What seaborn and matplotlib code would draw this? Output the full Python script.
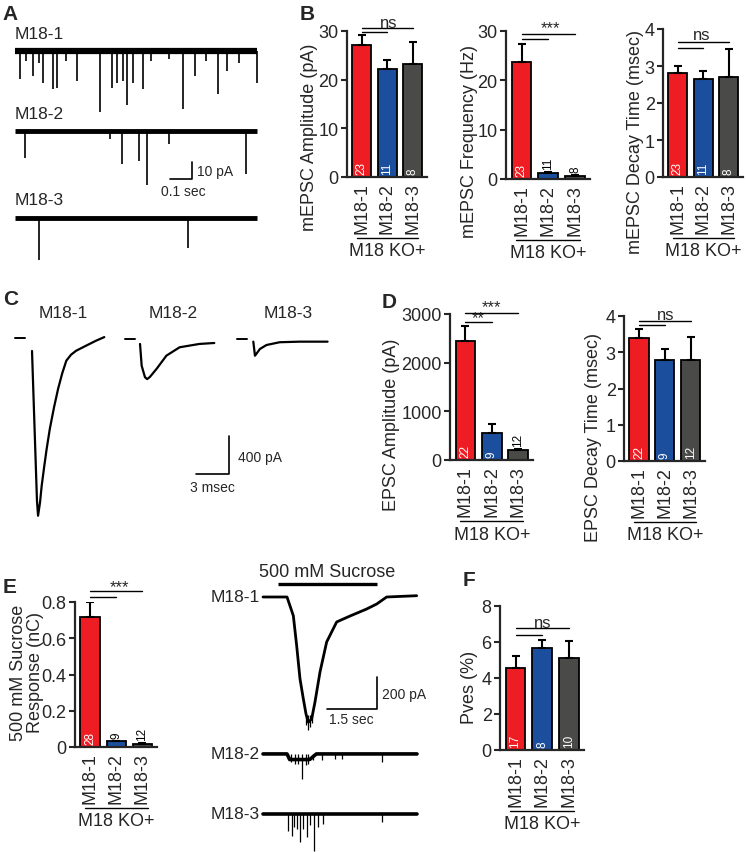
import numpy as np
import pandas as pd
import matplotlib
matplotlib.use("Agg")
import matplotlib.pyplot as plt
import matplotlib.transforms as mtransforms
import seaborn as sns

# ---------------- data ----------------
groups = ["M18-1", "M18-2", "M18-3"]
bar_colors = ["#EE1D23", "#1B4F9E", "#4A4A48"]

mepsc_amp = [27.1, 22.2, 23.2]
mepsc_amp_sem = [2.1, 1.8, 4.5]
mepsc_freq = [23.8, 1.2, 0.7]
mepsc_freq_sem = [3.6, 0.3, 0.2]
mepsc_decay = [2.81, 2.65, 2.69]
mepsc_decay_sem = [0.2, 0.22, 0.77]
mepsc_n = [23, 11, 8]

epsc_amp = [2450, 564, 206]
epsc_amp_sem = [296, 171, 29]
epsc_decay = [3.4, 2.8, 2.78]
epsc_decay_sem = [0.25, 0.3, 0.64]
epsc_n = [22, 9, 12]

sucrose = [0.72, 0.031, 0.017]
sucrose_sem = [0.08, 0.004, 0.005]
sucrose_n = [28, 9, 12]

pves = [4.58, 5.69, 5.13]
pves_sem = [0.64, 0.42, 0.93]
pves_n = [17, 8, 10]

# mEPSC traces (A): event times (s) and amplitudes (pA)
a1_times = [0.023, 0.05, 0.083, 0.11, 0.129, 0.174, 0.19, 0.23, 0.28, 0.386, 0.44, 0.462,
            0.49, 0.507, 0.538, 0.583, 0.62, 0.70, 0.765, 0.818, 0.87, 0.924, 0.962, 1.02, 1.099]
a1_amps = [16.7, 6, 14.7, 7, 18.6, 22.5, 21.6, 6, 17.6, 36, 21.6, 18.6,
           17.6, 32, 18.6, 22.5, 6, 5, 34, 14.7, 6, 25.5, 11.8, 7, 18.6]
a2_times = [0.045, 0.43, 0.485, 0.565, 0.599, 0.70, 1.048]
a2_amps = [15.7, 5, 19.6, 18, 32, 7.8, 25.5]
a3_times = [0.11, 0.788]
a3_amps = [25, 18]
a_duration = 1.1

# evoked EPSC traces (C): time (ms), current (pA)
epsc1_t = [0, 0.45, 0.55, 0.73, 0.88, 1.1, 1.33, 1.62, 2.0, 2.37, 2.75, 3.12, 3.55, 4.02, 4.92, 5.82, 6.57]
epsc1_i = [-126, -1700, -1860, -1719, -1544, -1350, -1158, -945, -720, -525, -360, -228, -165, -123, -70, -18, 20]
epsc2_t = [0, 0.15, 0.45, 0.65, 0.9, 1.5, 2.4, 3.6, 5.4, 6.75]
epsc2_i = [-10, -240, -360, -380, -357, -273, -133, -45, -10, 0]
epsc3_t = [0, 0.15, 0.6, 1.2, 2.4, 4.2, 6.75]
epsc3_i = [0, -148, -77, -35, -6, 0, 0]

# sucrose traces (E): time (s), current (pA)
suc1_t = [0, 0.72, 0.91, 1.01, 1.11, 1.21, 1.29, 1.36, 1.46, 1.56, 1.71, 1.91, 2.21,
          2.61, 3.11, 3.41, 3.71, 4.61]
suc1_i = [0, 0, -117, -304, -512, -637, -731, -783, -762, -656, -469, -281, -156,
          -119, -75, -44, 0, 8]
suc1_spikes_t = [1.3, 1.36, 1.42, 1.48]
suc1_spikes_a = [-800, -830, -810, -790]
suc2_t = [0, 0.72, 0.8, 1.4, 1.6, 4.62]
suc2_i = [0, 0, -35, -35, 0, 0]
suc2_ev_t = [0.85, 0.95, 1.04, 1.16, 1.29, 1.36, 1.5, 1.76, 2.16, 2.36, 3.56]
suc2_ev_a = [50, 60, 60, 156, 70, 60, 40, 35, 30, 30, 52]
suc3_ev_t = [0.76, 0.86, 0.93, 1.01, 1.11, 1.21, 1.31, 1.42, 1.54, 1.66, 1.81, 3.56]
suc3_ev_a = [104, 136, 80, 94, 175, 94, 144, 70, 230, 81, 62, 50]
suc_duration = 4.62

# ---------------- style ----------------
sns.set_style("ticks")
plt.rcParams["font.family"] = ["Liberation Sans", "DejaVu Sans"]
plt.rcParams["font.size"] = 13

W, H = 746, 853
fig = plt.figure(figsize=(W / 100, H / 100), dpi=100)


def px_axes(l, t, r, b):
    return fig.add_axes([l / W, 1 - b / H, (r - l) / W, (b - t) / H])


def bar_panel(box, values, sems, counts, yticks, ylabel, lab_dx, lab_y,
              sig_lines, sig_texts):
    l, t, r, b = box
    ax = px_axes(*box)
    df = pd.DataFrame({"genotype": groups, "value": values})
    sns.barplot(data=df, x="genotype", y="value", hue="genotype", palette=bar_colors,
                saturation=1, width=0.74, edgecolor="black", linewidth=1.3,
                errorbar=None, legend=False, ax=ax)
    ax.errorbar(np.arange(3), values, yerr=[np.zeros(3), sems], fmt="none",
                ecolor="black", elinewidth=1.5, capsize=3, capthick=1.5, zorder=3)
    ax.set_xlim(-0.58, 2.56)
    ax.set_ylim(yticks[0], yticks[-1])
    ax.set_yticks(yticks)
    ax.set_yticklabels([f"{v:g}" for v in yticks])
    ax.tick_params(axis="y", length=4, width=1.5, pad=2, labelsize=13)
    ax.tick_params(axis="x", length=0, pad=4, labelsize=13, labelrotation=90)
    ax.set_xlabel("")
    ax.set_ylabel(ylabel, fontsize=13, va="center", linespacing=0.95)
    ax.yaxis.set_label_coords(-lab_dx / (r - l), lab_y)
    sns.despine(ax=ax)
    for s in ["left", "bottom"]:
        ax.spines[s].set_linewidth(1.6)

    # n per bar
    for i, n in enumerate(counts):
        if values[i] / yticks[-1] > 0.12:
            ax.annotate(str(n), xy=(i, 0), xytext=(0, 2), textcoords="offset points",
                        rotation=90, ha="center", va="bottom", color="white", fontsize=8.5)
        else:
            ax.annotate(str(n), xy=(i, values[i] + sems[i]), xytext=(0, 2),
                        textcoords="offset points", rotation=90, ha="center",
                        va="bottom", color="black", fontsize=8.5)

    # significance
    for x0, x1, y in sig_lines:
        ax.plot([x0, x1], [y, y], color="black", lw=1, clip_on=False)
    for x, y, s in sig_texts:
        ax.text(x, y, s, ha="center", va="center", fontsize=12)

    # group bracket
    tr1 = ax.get_xaxis_transform() + mtransforms.ScaledTranslation(0, -61 / 100, fig.dpi_scale_trans)
    tr2 = ax.get_xaxis_transform() + mtransforms.ScaledTranslation(0, -74 / 100, fig.dpi_scale_trans)
    ax.plot([-0.2, 2.2], [0, 0], transform=tr1, color="black", lw=1, clip_on=False)
    ax.text(1, 0, "M18 KO+", transform=tr2, ha="center", va="center", fontsize=13)
    return ax


# ---------------- panel B ----------------
bar_panel((347, 32, 427, 178), mepsc_amp, mepsc_amp_sem, mepsc_n, [0, 10, 20, 30],
          "mEPSC Amplitude (pA)", 37, 0.28,
          [(0, 2, 30.55), (0, 1, 29.73)], [(1.05, 31.8, "ns")])
bar_panel((506, 32, 590, 180), mepsc_freq, mepsc_freq_sem, mepsc_n, [0, 10, 20, 30],
          "mEPSC Frequency (Hz)", 37, 0.26,
          [(0, 2, 29.4), (0, 1, 28.4)], [(1.1, 30.6, "***")])
bar_panel((663, 30, 743, 178), mepsc_decay, mepsc_decay_sem, mepsc_n, [0, 1, 2, 3, 4],
          "mEPSC Decay Time (msec)", 28, 0.24,
          [(0, 2, 3.64), (0, 1, 3.5)], [(0.95, 3.86, "ns")])

# ---------------- panel D ----------------
bar_panel((450, 315, 533, 461), epsc_amp, epsc_amp_sem, epsc_n, [0, 1000, 2000, 3000],
          "EPSC Amplitude (pA)", 58, 0.25,
          [(0, 2, 3020), (0, 1, 2835)], [(1.0, 3144, "***"), (0.5, 2917, "**")])
bar_panel((624, 317, 705, 462), epsc_decay, epsc_decay_sem, epsc_n, [0, 1, 2, 3, 4],
          "EPSC Decay Time (msec)", 31, 0.17,
          [(0, 2, 3.86), (0, 1, 3.75)], [(1.03, 4.05, "ns")])

# ---------------- panel E (bars) ----------------
bar_panel((75, 603, 157, 748), sucrose, sucrose_sem, sucrose_n, [0, 0.2, 0.4, 0.6, 0.8],
          "500 mM Sucrose\nResponse (nC)", 48, 0.52,
          [(0, 2, 0.859), (0, 1, 0.826)], [(1.12, 0.887, "***")])

# ---------------- panel F ----------------
bar_panel((500, 607, 584, 751), pves, pves_sem, pves_n, [0, 2, 4, 6, 8],
          "Pves (%)", 30, 0.44,
          [(0, 2, 6.76), (0, 1, 6.41)], [(1.0, 7.09, "ns")])

# ---------------- panel A (mEPSC traces) ----------------
axA = px_axes(10, 28, 262, 265)
axA.set_xlim(-0.0227, 1.1227)
axA.set_ylim(-125.3, 14.1)
axA.axis("off")
a_traces = [(a1_times, a1_amps, 0, 4.5), (a2_times, a2_amps, -47, 3.5), (a3_times, a3_amps, -98, 3.5)]
for k, (tt, aa, base, band) in enumerate(a_traces):
    axA.plot([0, a_duration], [base, base], color="black", lw=band, solid_capstyle="butt")
    axA.vlines(tt, base - np.array(aa), base, color="black", lw=1.2)
    axA.text(0, base + 6, groups[k], ha="left", va="bottom", fontsize=12.5)
axA.plot([0.7045, 0.8045, 0.8045], [-75.3, -75.3, -65.3], color="black", lw=1.2)
axA.text(0.827, -70.6, "10 pA", ha="left", va="center", fontsize=10)
axA.text(0.764, -82.5, "0.1 sec", ha="center", va="center", fontsize=10)

# ---------------- panel C (EPSC traces) ----------------
axC = px_axes(0, 300, 340, 525)
axC.set_xlim(-2.91, 28.0)
axC.set_ylim(-1947, 421)
axC.axis("off")
c_traces = [(epsc1_t, epsc1_i, 0.0, 0), (epsc2_t, epsc2_i, 9.82, -42), (epsc3_t, epsc3_i, 20.12, -28)]
c_label_x = [2.82, 12.8, 23.3]
c_dash = [(-1.55, -0.64, 10), (8.45, 9.36, 0), (18.6, 19.5, 0)]
for k, (tt, ii, t0, base) in enumerate(c_traces):
    axC.plot(np.array(tt) + t0, np.array(ii) + base, color="black", lw=1.6)
    axC.plot(c_dash[k][:2], [c_dash[k][2]] * 2, color="black", lw=1.4)
    axC.text(c_label_x[k], 284, groups[k], ha="center", va="center", fontsize=12.5)
axC.plot([14.9, 17.9, 17.9], [-1421, -1421, -1021], color="black", lw=1.2)
axC.text(18.7, -1242, "400 pA", ha="left", va="center", fontsize=10)
axC.text(16.4, -1560, "3 msec", ha="center", va="center", fontsize=10)

# ---------------- panel E (sucrose traces) ----------------
axE = px_axes(200, 560, 450, 853)
axE.set_xlim(-1.89, 5.61)
axE.set_ylim(-1594, 237.5)
axE.axis("off")
axE.plot(suc1_t, suc1_i, color="black", lw=2.0)
axE.vlines(suc1_spikes_t, suc1_spikes_a, -740, color="black", lw=0.9)
axE.plot([0.45, 3.42], [81, 81], color="black", lw=2.4, solid_capstyle="butt")
axE.text(1.91, 160, "500 mM Sucrose", ha="center", va="center", fontsize=13)
b2, b3 = -981, -1356
axE.plot(suc2_t, np.array(suc2_i) + b2, color="black", lw=2.6)
axE.vlines(suc2_ev_t, b2 - np.array(suc2_ev_a), b2, color="black", lw=0.9)
axE.plot([0, suc_duration], [b3, b3], color="black", lw=2.6)
axE.vlines(suc3_ev_t, b3 - np.array(suc3_ev_a), b3, color="black", lw=0.9)
for k, base in enumerate([0, b2, b3]):
    axE.text(-0.1, base, groups[k], ha="right", va="center", fontsize=12.5)
axE.plot([1.91, 3.41, 3.41], [-700, -700, -500], color="black", lw=1.2)
axE.text(3.56, -606, "200 pA", ha="left", va="center", fontsize=10)
axE.text(2.64, -760, "1.5 sec", ha="center", va="center", fontsize=10)

# ---------------- panel letters ----------------
for letter, x, y in [("A", 2, 5), ("B", 300, 5), ("C", 3, 290), ("D", 382, 293),
                     ("E", 3, 578), ("F", 463, 571)]:
    fig.text(x / W, 1 - y / H, letter, fontsize=15, fontweight="bold", ha="left", va="top")

fig.savefig("out.png", dpi=100)
